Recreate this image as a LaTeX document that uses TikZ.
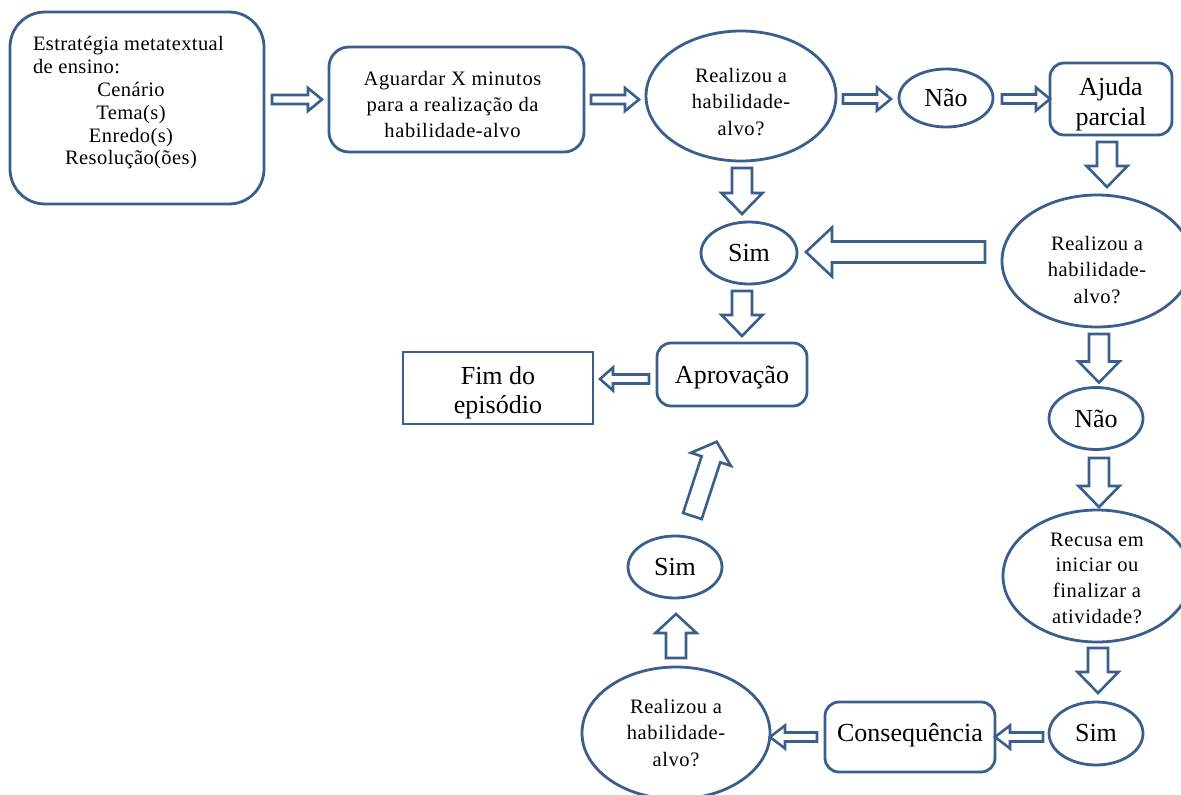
\documentclass[tikz,border=0pt]{standalone}
\usepackage{fontspec}
\setmainfont{Liberation Serif}
\usetikzlibrary{shapes.geometric,calc}
\definecolor{bl}{RGB}{58,95,140}
\newcommand{\bigf}{\fontsize{26}{29.5}\selectfont}
\newcommand{\smallf}{\fontsize{20.5}{26.7}\selectfont\addfontfeatures{LetterSpace=3}}
\newcommand{\recf}{\fontsize{20.5}{25.7}\selectfont\addfontfeatures{LetterSpace=3}}
\newcommand{\boxf}{\fontsize{20.5}{22.8}\selectfont\addfontfeatures{LetterSpace=2}}
\newcommand{\boxtwof}{\fontsize{20.5}{26}\selectfont\addfontfeatures{LetterSpace=3}}
\tikzset{
  shp/.style={draw=bl, line width=2.8, fill=white, inner sep=0pt, outer sep=0pt},
  rbox/.style={shp, rectangle, rounded corners=14},
  sbox/.style={shp, rectangle},
  ell/.style={shp, ellipse},
  bigtxt/.style={font=\bigf, align=center},
  biglab/.style={font=\bigf, align=center, inner sep=0pt},
  etext/.style={font=\smallf, align=center, inner sep=0pt},
  barr/.style={draw=bl, line width=2.6, fill=white, line join=miter},
}
% block arrow: start, tip, shaft half width, head half width, head length
\newcommand{\blockarr}[5]{%
  \draw[barr] let \p1=#1, \p2=#2, \n1={atan2(\y2-\y1,\x2-\x1)}, \n2={veclen(\x2-\x1,\y2-\y1)} in
    [shift={(\p1)}, rotate=\n1]
    (0,-#3) -- ({\n2-#5},-#3) -- ({\n2-#5},-#4) -- (\n2,0) -- ({\n2-#5},#4) -- ({\n2-#5},#3) -- (0,#3) -- cycle;}
\begin{document}
\begin{tikzpicture}[x=1pt,y=1pt]
\fill[white] (0,0) rectangle (1181,-795);
\useasboundingbox (0,0) rectangle (1181,-795);

% nodes
\node[rbox, rounded corners=35, minimum width=254, minimum height=192,
  label={[name=b1t, font=\boxf, align=center, inner sep=0pt, xshift=-6, yshift=5]center:{\makebox[196pt][l]{Estratégia metatextual}\\\makebox[196pt][l]{de ensino:}\\Cenário\\Tema(s)\\Enredo(s)\\Resolução(ões)}}]
  (b1) at (137,-108) {};
\node[rbox, rounded corners=20, minimum width=255, minimum height=105,
  label={[name=b2t, font=\boxtwof, align=center, inner sep=0pt, xshift=-4, yshift=-4.5]center:{Aguardar X minutos\\para a realização da\\habilidade-alvo}}]
  (b2) at (456.5,-99.5) {};
\node[ell, minimum width=190, minimum height=130,
  label={[name=e1t, etext, yshift=-6]center:{Realizou a\\habilidade-\\alvo?}}]
  (e1) at (741,-96) {};
\node[ell, bigtxt, minimum width=94, minimum height=58] (nao1) at (946,-98) {Não};
\node[rbox, minimum width=122, minimum height=72,
  label={[name=ajudat, biglab, yshift=-5]center:{Ajuda\\parcial}}] (ajuda) at (1111,-99) {};
\node[ell, bigtxt, minimum width=96, minimum height=62] (sim1) at (749,-253) {Sim};
\node[ell, minimum width=190, minimum height=132,
  label={[name=e2t, etext, yshift=-9]center:{Realizou a\\habilidade-\\alvo?}}]
  (e2) at (1097,-261) {};
\node[rbox, minimum width=150, minimum height=63,
  label={[name=aprovt, biglab, yshift=-3.5]center:{Aprovação}}] (aprov) at (732,-374.5) {};
\node[sbox, minimum width=190, minimum height=72,
  label={[name=fimt, biglab, yshift=-4.5]center:{Fim do\\episódio}}] (fim) at (498,-388) {};
\node[ell, bigtxt, minimum width=94, minimum height=62] (nao2) at (1096,-418.5) {Não};
\node[ell, minimum width=188, minimum height=132,
  label={[name=rect, font=\recf, align=center, inner sep=0pt, yshift=-2]center:{Recusa em\\iniciar ou\\finalizar a\\atividade?}}]
  (recusa) at (1097,-576) {};
\node[ell, bigtxt, minimum width=94, minimum height=63] (sim3) at (1096,-733.5) {Sim};
\node[rbox, minimum width=170, minimum height=70,
  label={[name=conseqt, biglab, yshift=2]center:{Consequência}}] (conseq) at (910,-737) {};
\node[ell, minimum width=188, minimum height=132,
  label={[name=e3t, etext]center:{Realizou a\\habilidade-\\alvo?}}]
  (e3) at (676,-733) {};
\node[ell, bigtxt, minimum width=94, minimum height=62] (sim2) at (675,-567) {Sim};

% block arrows
\blockarr{($(b1.east|-b2.west)+(8,0)$)}{($(b2.west)+(-7,0)$)}{4.5}{11.5}{14}
\blockarr{($(b2.east)+(7,0)$)}{($(e1.west|-b2.east)+(-7,0)$)}{4.5}{11.5}{14}
\blockarr{($(e1.east|-nao1.west)+(7,-1)$)}{($(nao1.west)+(-8,-1)$)}{4.5}{11.5}{14}
\blockarr{($(nao1.east)+(9,-1)$)}{($(ajuda.west|-nao1.east)+(0,-1)$)}{4.5}{11.5}{14}
\blockarr{($(e1.south)+(1,-7)$)}{($(e1.south|-sim1.north)+(1,8)$)}{10}{20.5}{21}
\blockarr{($(ajuda.south)+(-4,-7)$)}{($(ajuda.south|-e2.north)+(-4,8)$)}{10}{20.5}{21}
\blockarr{($(e2.west)+(-17,9)$)}{($(sim1.east)+(9,1)$)}{10.5}{24.5}{26}
\blockarr{($(sim1.south)+(-7,-7)$)}{($(sim1.south|-aprov.north)+(-7,7)$)}{10}{20.5}{21}
\blockarr{($(aprov.west)+(-8,-4.5)$)}{($(fim.east|-aprov.west)+(7,-4.5)$)}{4.5}{11.5}{13}
\blockarr{($(e2.south)+(2,-7)$)}{($(e2.south|-nao2.north)+(2,5)$)}{10}{20.5}{21}
\blockarr{($(nao2.south)+(3,-8.5)$)}{($(nao2.south|-recusa.north)+(3,3)$)}{10}{20.5}{21}
\blockarr{($(recusa.south)+(1,-6)$)}{($(recusa.south|-sim3.north)+(1,9)$)}{10}{20.5}{21}
\blockarr{($(sim3.west)+(-6,-3.5)$)}{(conseq.east)}{4.5}{11.5}{15}
\blockarr{($(conseq.west)+(-8,0)$)}{($(e3.east|-conseq.west)$)}{4.5}{11.5}{15}
\blockarr{($(e3.north)+(0,9)$)}{($(sim2.south)+(1,-16)$)}{10}{20.5}{19}
\blockarr{($(sim2.north)+(17.4,20)$)}{($(aprov.south)+(-15.3,-35.7)$)}{9.8}{21}{18.5}
\end{tikzpicture}
\end{document}
